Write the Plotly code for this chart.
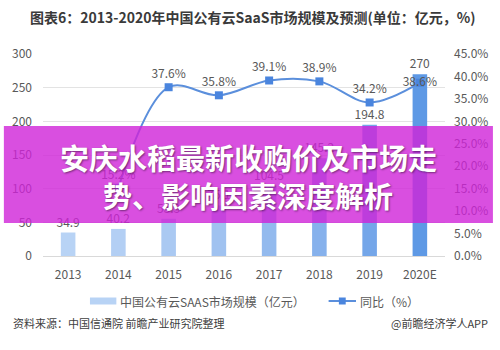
import plotly.graph_objects as go

years = ["2013", "2014", "2015", "2016", "2017", "2018", "2019", "2020E"]
market_size = [34.9, 40.2, 55.3, 75.1, 104.5, 145.2, 194.8, 270]
growth = [None, 15.2, 37.6, 35.8, 39.1, 38.9, 34.2, 38.6]
bar_colors = ["#b8d3f5", "#b3cff4", "#aac9f2", "#a0c2f0", "#93baee", "#86b1ec", "#74a6e9", "#5e99e5"]
growth_pos = ["top center"] * 7 + ["middle center"]

FONT = "Noto Sans CJK SC"
GRAY = "#595959"

fig = go.Figure()
fig.add_trace(go.Bar(
    x=years, y=market_size, marker=dict(color=bar_colors, line=dict(width=0)),
    texttemplate="%{y}", textposition="outside", cliponaxis=False, constraintext="none",
    textfont=dict(size=12, color=GRAY, family=FONT),
    width=0.29, showlegend=False, yaxis="y",
))
fig.add_trace(go.Scatter(
    x=years, y=growth, yaxis="y2", mode="lines+markers+text",
    line=dict(color="#5b8fdc", width=2, shape="spline", smoothing=1),
    marker=dict(symbol="square", size=8, color="#4a85de"),
    text=[None if g is None else f"{g:.1f}%" for g in growth],
    textposition=growth_pos, cliponaxis=False,
    textfont=dict(size=12, color=GRAY, family=FONT),
    showlegend=False, connectgaps=False,
))

L, R, T, B = 40, 49, 54, 94
W, H = 500, 350
pw, ph = W - L - R, H - T - B

def px(xp):
    return (xp - L) / pw

def py(yp):
    return (H - B - yp) / ph

fig.update_layout(
    width=W, height=H, margin=dict(l=L, r=R, t=T, b=B),
    paper_bgcolor="white", plot_bgcolor="white",
    font=dict(family=FONT, color=GRAY, size=12),
    xaxis=dict(type="category", showgrid=False, showline=True, linecolor="#d9d9d9",
               linewidth=1, ticks="", tickfont=dict(size=12, color=GRAY),
               ticklabelstandoff=8),
    yaxis=dict(range=[0, 300], dtick=50, showgrid=True, gridcolor="#e3e3e3",
               zeroline=False, tickfont=dict(size=12, color=GRAY), ticklabelstandoff=10),
    yaxis2=dict(range=[0, 45], dtick=5, overlaying="y", side="right", showgrid=False,
                zeroline=False, tickformat=".1f", ticksuffix="%",
                tickfont=dict(size=12, color=GRAY), ticklabelstandoff=8),
    bargap=0.7,
)

shapes = []
annotations = []
# Title
annotations.append(dict(text="<b>图表6：2013-2020年中国公有云SaaS市场规模及预测(单位：亿元，%)</b>",
                        xref="paper", yref="paper", x=px(25), y=py(17), xanchor="left",
                        yanchor="middle", showarrow=False,
                        font=dict(size=14, color="#3a3a3a", family=FONT)))
# Legend (manual)
shapes.append(dict(type="rect", xref="paper", yref="paper", x0=px(88), x1=px(115),
                   y0=py(304.5), y1=py(297.5), fillcolor="#b8d3f5", line=dict(width=0)))
annotations.append(dict(text="中国公有云SAAS市场规模（亿元）", xref="paper", yref="paper",
                        x=px(117), y=py(301), xanchor="left", yanchor="middle", showarrow=False,
                        font=dict(size=12, color=GRAY, family=FONT)))
shapes.append(dict(type="line", xref="paper", yref="paper", x0=px(332), x1=px(360),
                   y0=py(301), y1=py(301), line=dict(color="#5b8fdc", width=2)))
shapes.append(dict(type="rect", xref="paper", yref="paper", x0=px(342.5), x1=px(349.5),
                   y0=py(304.5), y1=py(297.5), fillcolor="#4a85de", line=dict(width=0)))
annotations.append(dict(text="同比（%）", xref="paper", yref="paper",
                        x=px(362), y=py(301), xanchor="left", yanchor="middle", showarrow=False,
                        font=dict(size=12, color=GRAY, family=FONT)))
# Footer
annotations.append(dict(text="资料来源：中国信通院 前瞻产业研究院整理", xref="paper", yref="paper",
                        x=px(7), y=py(323), xanchor="left", yanchor="middle", showarrow=False,
                        font=dict(size=11, color="#404040", family=FONT)))
annotations.append(dict(text="@前瞻经济学人APP", xref="paper", yref="paper",
                        x=px(497), y=py(323), xanchor="right", yanchor="middle", showarrow=False,
                        font=dict(size=11, color="#404040", family=FONT)))
# Banner overlay
shapes.append(dict(type="rect", xref="paper", yref="paper", x0=px(0), x1=px(500),
                   y0=py(223), y1=py(126), fillcolor="rgba(208,35,216,0.8)",
                   line=dict(width=0), layer="above"))
annotations.append(dict(text="<b>安庆水稻最新收购价及市场走</b>", xref="paper", yref="paper",
                        x=px(250), y=py(157), xanchor="center", yanchor="middle", showarrow=False,
                        font=dict(size=29, color="white", family=FONT,
                                  shadow="1px 1px 2px rgba(0,0,0,0.45)")))
annotations.append(dict(text="<b>势、影响因素深度解析</b>", xref="paper", yref="paper",
                        x=px(250), y=py(195), xanchor="center", yanchor="middle", showarrow=False,
                        font=dict(size=29, color="white", family=FONT,
                                  shadow="1px 1px 2px rgba(0,0,0,0.45)")))

fig.update_layout(shapes=shapes, annotations=annotations)
fig.write_html("out.html")
